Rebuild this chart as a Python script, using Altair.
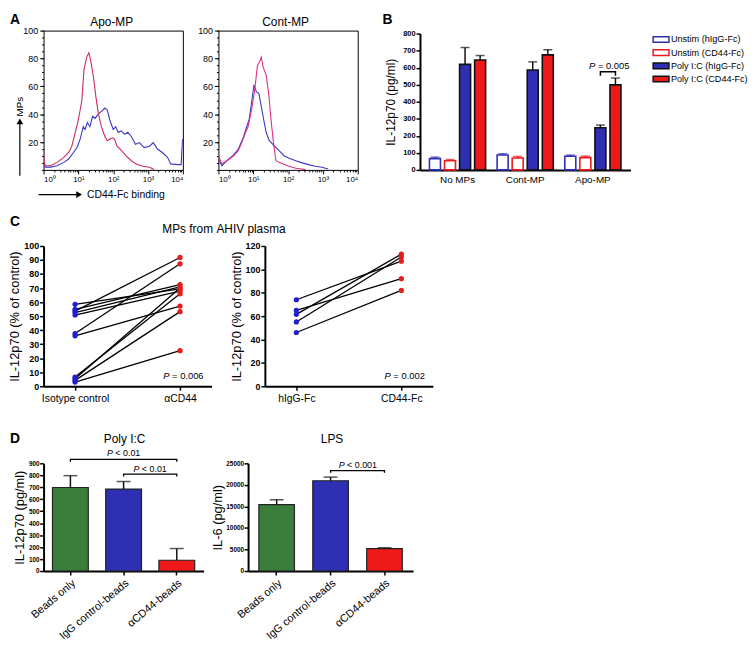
import math
import altair as alt
import pandas as pd

FONT = "Liberation Sans"

# ---------------- Panel A : flow histograms (x in decades = log10 intensity) ----------------
apo_cd44_x = [0.00, 0.04, 0.20, 0.39, 0.58, 0.72, 0.81, 0.91, 1.00, 1.10, 1.16, 1.24, 1.30, 1.35, 1.43, 1.50,
              1.57, 1.66, 1.76, 1.83, 1.90, 1.98, 2.04, 2.11, 2.23, 2.37, 2.52, 2.66, 2.85, 3.04, 3.18]
apo_cd44_y = [12, 3, 3, 5.4, 9, 12.5, 17, 27, 36, 50, 72, 81, 84, 79, 67, 53,
              41, 31, 24, 21, 22, 23, 22, 17, 14, 10, 6.6, 4.3, 2.6, 1.9, 0.3]
apo_higg_x = [0.00, 0.04, 0.20, 0.39, 0.58, 0.72, 0.86, 0.96, 1.05, 1.14, 1.19, 1.26, 1.33, 1.41, 1.48, 1.57,
              1.66, 1.76, 1.83, 1.90, 2.00, 2.07, 2.14, 2.23, 2.33, 2.42, 2.52, 2.64, 2.75, 2.89, 3.04, 3.15,
              3.27, 3.41, 3.56, 3.65, 3.84, 3.95, 3.99]
apo_higg_y = [5, 2, 2, 3, 5.4, 7.8, 12.5, 16, 22, 31, 29, 34, 31, 38.5, 37, 40,
              42, 44.4, 43, 36, 29, 31, 27, 28, 25.5, 27, 24, 18.4, 19.6, 16, 17, 19.6,
              15, 12.5, 9, 4.3, 3.8, 3.8, 22]
cont_cd44_x = [0.00, 0.10, 0.24, 0.43, 0.57, 0.67, 0.76, 0.85, 0.95, 1.04, 1.12, 1.18, 1.23, 1.28, 1.37, 1.45,
               1.51, 1.58, 1.65, 1.79, 1.98, 2.22, 2.50]
cont_cd44_y = [10, 4.3, 6.6, 10, 13.7, 19.6, 25.5, 31, 43, 57, 75, 77.5, 81, 74, 68, 53,
               36, 19.6, 6.6, 5, 3, 1.2, 0.2]
cont_higg_x = [0.00, 0.10, 0.24, 0.43, 0.57, 0.71, 0.81, 0.88, 0.95, 1.02, 1.09, 1.16, 1.23, 1.30, 1.37, 1.46,
               1.61, 1.75, 1.89, 2.03, 2.22, 2.36, 2.59, 2.78, 2.97, 3.15]
cont_higg_y = [7.8, 3, 6.6, 10.6, 15, 23, 31, 36, 48, 61, 56, 55, 45.6, 36, 27, 21,
               17, 13.7, 10, 8.3, 6.6, 5.4, 3.8, 2.6, 1.9, 0.7]
a_decades = [0, 1, 2, 3, 4]
a_yticks = [20, 40, 60, 80, 100]
a_minor_mult = [2, 3, 4, 5, 6, 7, 8, 9]
a_yminor = list(range(0, 101, 5))

# ---------------- Panel B ----------------
b_groups = ["No MPs", "Cont-MP", "Apo-MP"]
b_series = ["Unstim (hIgG-Fc)", "Unstim (CD44-Fc)", "Poly I:C (hIgG-Fc)", "Poly I:C (CD44-Fc)"]
b_unstim_higg = [66, 87, 80]
b_unstim_higg_err = [9, 8, 7]
b_unstim_cd44 = [54, 70, 72]
b_unstim_cd44_err = [7, 9, 9]
b_poly_higg = [619, 586, 247]
b_poly_higg_err = [99, 48, 16]
b_poly_cd44 = [645, 675, 499]
b_poly_cd44_err = [26, 30, 40]

# ---------------- Panel C ----------------
c1_conds = ["Isotype control", "\u03b1CD44"]
c1_isotype = [58.4, 54.8, 53.6, 52.5, 50.8, 37.6, 36.0, 6.6, 5.4, 4.2, 3.0]
c1_acd44 = [69.4, 72.5, 91.8, 70.8, 67.8, 87.3, 57.2, 65.9, 70.0, 53.2, 25.4]
c2_conds = ["hIgG-Fc", "CD44-Fc"]
c2_higg = [74, 65, 61.5, 55, 46]
c2_cd44 = [107, 92, 113, 110.6, 82]

# ---------------- Panel D ----------------
d_groups = ["Beads only", "IgG control-beads", "\u03b1CD44-beads"]
d_il12 = [698, 685, 90]
d_il12_err = [99, 63, 98]
d_il6 = [15400, 20950, 5200]
d_il6_err = [1150, 850, 200]

BLUE_A = "#3a3ac4"
RED_A = "#cc2a5e"
PINK_A = "#de2e86"
BAR_BLUE = "#2f2fb4"
BAR_RED = "#ee1a1a"
GREEN = "#3b7d3b"
PT_BLUE = "#1f1fd0"
PT_RED = "#e41d1d"

one = pd.DataFrame({"k": [0]})

CW = {" ": .278, "<": .584, "=": .584, ".": .278}


def est_w(s, size):
    return sum(CW.get(c, .556) for c in s) * size


def deco(text, x, y, size=12, weight="normal", align="center", baseline="alphabetic", angle=0, style="normal"):
    return alt.Chart(one).mark_text(text=text, fontSize=size, fontWeight=weight, align=align,
                                    baseline=baseline, angle=angle, fontStyle=style,
                                    color="black").encode(x=alt.value(x), y=alt.value(y))


def frame(x0, y0, x1, y1):
    # invisible rule that fixes the panel's layout bounds
    return alt.Chart(one).mark_rule(strokeOpacity=0, color="white").encode(
        x=alt.value(x0), x2=alt.value(x1), y=alt.value(y0), y2=alt.value(y1))


def p_deco(rest, xright, y, size):
    wp = 0.667 * size
    sp = 0.278 * size
    left = xright - wp - sp - est_w(rest, size)
    return [deco("P", left, y, size, align="left", style="italic"),
            deco(rest, left + wp + sp, y, size, align="left")]


def p_label(df, enc, rest, size, dxc):
    wp = 0.667 * size
    sp = 0.278 * size
    left = dxc - (wp + sp + est_w(rest, size)) / 2
    return [alt.Chart(df).mark_text(text="P", fontStyle="italic", fontSize=size, align="left",
                                    dx=left, color="black").encode(**enc),
            alt.Chart(df).mark_text(text=rest, fontSize=size, align="left",
                                    dx=left + wp + sp, color="black").encode(**enc)]


IND = dict(color="independent", fill="independent", stroke="independent")

# ================= Panel A =================
a_xminor = [n + math.log10(k) for n in range(4) for k in a_minor_mult]


def hist_panel(xr, yr, xb, yb, red, title, title_x, first):
    df = pd.concat([
        pd.DataFrame({"x": xb, "y": yb, "curve": "hIgG-Fc", "i": range(len(xb))}),
        pd.DataFrame({"x": xr, "y": yr, "curve": "CD44-Fc", "i": range(len(xr))}),
    ])
    xs = alt.Scale(domain=[0, 4], nice=False, zero=False)
    ys = alt.Scale(domain=[0, 100], nice=False)
    lines = alt.Chart(df).mark_line(strokeWidth=1.1, clip=True).encode(
        x=alt.X("x:Q", scale=xs,
                axis=alt.Axis(values=a_decades, title=None, domain=False, tickSize=4, labelFontSize=8,
                              labelPadding=2, orient="bottom",
                              labelExpr="'10' + ['\u2070','\u00b9','\u00b2','\u00b3','\u2074'][datum.value]")),
        y=alt.Y("y:Q", scale=ys,
                axis=alt.Axis(values=a_yticks, title=None, domain=False, tickSize=4, labelFontSize=9,
                              labelPadding=2, orient="left")),
        color=alt.Color("curve:N", scale=alt.Scale(domain=["hIgG-Fc", "CD44-Fc"], range=[BLUE_A, red]),
                        legend=None),
        order="i:Q",
    )
    minor = alt.Chart(df).mark_line(opacity=0).encode(
        x=alt.X("x:Q", scale=xs, axis=alt.Axis(values=a_xminor, labels=False, domain=False, tickSize=2,
                                               title=None, orient="bottom")),
        y=alt.Y("y:Q", scale=ys, axis=alt.Axis(values=a_yminor, labels=False, domain=False, tickSize=2,
                                               title=None, orient="left")),
        detail="curve:N",
    )
    layers = [lines, minor, deco(title, title_x, -4.3, 12)]
    if first:
        layers += [
            frame(-35, -17, 149, 175),
            deco("A", -34, -6.7, 14, weight="bold", align="left"),
            alt.Chart(one).mark_rule(color="black", strokeWidth=1.2).encode(
                x=alt.value(-24), y=alt.value(147), y2=alt.value(94)),
            alt.Chart(one).mark_point(shape="triangle-up", filled=True, size=45, color="black",
                                      opacity=1).encode(x=alt.value(-24), y=alt.value(92)),
            deco("MPs", -24, 77, 10, angle=270, baseline="middle"),
            alt.Chart(one).mark_rule(color="black", strokeWidth=1.2).encode(
                x=alt.value(-5), x2=alt.value(34), y=alt.value(166)),
            alt.Chart(one).mark_point(shape="triangle-right", filled=True, size=45, color="black",
                                      opacity=1).encode(x=alt.value(36), y=alt.value(166)),
            deco("CD44-Fc binding", 44, 166, 10.5, align="left", baseline="middle"),
        ]
    else:
        layers.append(frame(-24, -17, 149, 160))
    return alt.layer(*layers).resolve_axis(x="independent", y="independent").properties(
        width=141, height=141, view=alt.ViewBackground(stroke="black", strokeWidth=1))


A1 = hist_panel(apo_cd44_x, apo_cd44_y, apo_higg_x, apo_higg_y, RED_A, "Apo-MP", 69, True)
A2 = hist_panel(cont_cd44_x, cont_cd44_y, cont_higg_x, cont_higg_y, PINK_A, "Cont-MP", 68, False)

# ================= Panel B =================
b_means = [b_unstim_higg, b_unstim_cd44, b_poly_higg, b_poly_cd44]
b_errs = [b_unstim_higg_err, b_unstim_cd44_err, b_poly_higg_err, b_poly_cd44_err]
b_rows = []
for gi, g in enumerate(b_groups):
    for s, m, e in zip(b_series, b_means, b_errs):
        b_rows.append({"group": g, "series": s, "v": m[gi], "top": m[gi] + e[gi]})
bdf = pd.DataFrame(b_rows)
bcap = bdf.assign(v=bdf["top"])

bx = alt.X("group:N", sort=b_groups, scale=alt.Scale(paddingInner=0.17, paddingOuter=0.14),
           axis=alt.Axis(title=None, labelAngle=0, labelFontSize=10, ticks=False, domainWidth=2,
                         labelPadding=5))
bxo = alt.XOffset("series:N", sort=b_series, scale=alt.Scale(paddingInner=0.27, paddingOuter=0))
by = alt.Y("v:Q", scale=alt.Scale(domain=[0, 800], range=[141, 3]),
           axis=alt.Axis(values=list(range(0, 801, 100)), title="IL-12p70 (pg/ml)", titleFontSize=12,
                         titleFontWeight="normal", labelFontSize=7.5, labelFontWeight="bold", tickSize=4,
                         tickWidth=1.5, domainWidth=2, labelPadding=1, titlePadding=5))
b_fill = alt.Fill("series:N", scale=alt.Scale(domain=b_series, range=["white", "white", BAR_BLUE, BAR_RED]),
                  legend=None)
b_stroke = alt.Stroke("series:N", scale=alt.Scale(domain=b_series, range=[BAR_BLUE, BAR_RED, "#111", "#111"]),
                      legend=None)
b_col = alt.Color("series:N", scale=alt.Scale(domain=b_series, range=[BAR_BLUE, BAR_RED, "#111", "#111"]),
                  legend=None)

b_bars = alt.Chart(bdf).mark_bar(strokeWidth=1.6).encode(x=bx, xOffset=bxo, y=by, fill=b_fill, stroke=b_stroke)
b_err = alt.Chart(bdf).mark_rule(strokeWidth=1.5).encode(x=bx, xOffset=bxo, y=by, y2="top:Q", color=b_col)
b_caps = alt.Chart(bcap).mark_tick(thickness=1.5, size=9).encode(x=bx, xOffset=bxo, y=by, color=b_col)

b_br_series = ["Poly I:C (hIgG-Fc)", "Poly I:C (hIgG-Fc)", "Poly I:C (CD44-Fc)", "Poly I:C (CD44-Fc)"]
b_br_v = [553, 576, 576, 553]
b_brdf = pd.DataFrame({"group": "Apo-MP", "series": b_br_series, "v": b_br_v, "o": [0, 1, 2, 3]})
b_bracket = alt.Chart(b_brdf).mark_line(color="black", strokeWidth=1.5).encode(
    x=bx, xOffset=bxo, y=by, order="o:Q")
b_ptdf = pd.DataFrame({"group": ["Apo-MP"], "series": ["Poly I:C (hIgG-Fc)"], "v": [612]})
b_ptext = p_label(b_ptdf, dict(x=bx, xOffset=bxo, y=by), "= 0.005", 9.5, 9)

B = alt.layer(b_bars, b_err, b_caps, b_bracket, *b_ptext, frame(-39, -17, 213, 160),
              deco("B", -38, -6.7, 14, weight="bold", align="left")).properties(width=213, height=141)

# legend drawn as a small chart: one row per series
leg_df = pd.DataFrame({"series": b_series, "row": range(len(b_series))})
ly = alt.Y("row:Q", scale=alt.Scale(domain=[0, 3], range=[9, 49], nice=False, zero=False), axis=None)
leg_sym = alt.Chart(leg_df).mark_point(shape="M-1,-0.36L1,-0.36L1,0.36L-1,0.36Z", size=256, filled=True,
                                       strokeWidth=1.5, opacity=1).encode(
    x=alt.value(8), y=ly, fill=b_fill, stroke=b_stroke)
leg_txt = alt.Chart(leg_df).mark_text(align="left", baseline="middle", fontSize=9.2, color="black").encode(
    x=alt.value(18), y=ly, text="series:N")
LEG = alt.layer(leg_sym, leg_txt, frame(0, -17, 10, 50)).properties(width=95, height=60)


# ================= Panel C =================
def pair_df(conds, a, b):
    rows = []
    for i, (u, w) in enumerate(zip(a, b)):
        rows.append({"pair": i, "cond": conds[0], "v": u})
        rows.append({"pair": i, "cond": conds[1], "v": w})
    return pd.DataFrame(rows)


def pair_panel(conds, a, b, ymax, ystep, letter, ptxt):
    df = pair_df(conds, a, b)
    cx = alt.X("cond:N", sort=conds, scale=alt.Scale(type="point", padding=0.3),
               axis=alt.Axis(title=None, labelAngle=0, labelFontSize=10.5, tickSize=4, tickWidth=1.5,
                             domainWidth=2, labelPadding=3))
    cy = alt.Y("v:Q", scale=alt.Scale(domain=[0, ymax], nice=False),
               axis=alt.Axis(values=list(range(0, ymax + 1, ystep)), title="IL-12p70 (% of control)",
                             titleFontSize=13, titleFontWeight="normal", labelFontSize=9,
                             labelFontWeight="bold", tickSize=4, tickWidth=1.5, domainWidth=2,
                             labelPadding=1, titlePadding=2))
    lines = alt.Chart(df).mark_line(color="black", strokeWidth=1.3).encode(x=cx, y=cy, detail="pair:N")
    pts = alt.Chart(df).mark_circle(size=28, opacity=1).encode(
        x=cx, y=cy, color=alt.Color("cond:N", scale=alt.Scale(domain=conds, range=[PT_BLUE, PT_RED]),
                                    legend=None))
    layers = [lines, pts] + p_deco(ptxt, 162, 135, 9.5)
    if letter:
        # the row title is split in two so that each half stays inside its own panel's bounds
        layers += [frame(-35, -32, 172, 162),
                   deco("C", -34, -20, 14, weight="bold", align="left"),
                   deco("MPs from", 171.5, -13.3, 12, align="right")]
    else:
        layers += [frame(-37, -32, 171, 162),
                   deco("AHIV plasma", -49, -13.3, 12, align="left")]
    return alt.layer(*layers).properties(width=170, height=142)


C1 = pair_panel(c1_conds, c1_isotype, c1_acd44, 100, 10, True, "= 0.006")
C2 = pair_panel(c2_conds, c2_higg, c2_cd44, 120, 20, False, "= 0.002")


# ================= Panel D =================
def bar_panel(means, errs, ymax, ystep, ytitle, width, pin, pout, brackets, title, title_x, letter, fr):
    df = pd.DataFrame({"group": d_groups, "v": means, "top": [m + e for m, e in zip(means, errs)]})
    cap = df.assign(v=df["top"])
    dx_ = alt.X("group:N", sort=d_groups, scale=alt.Scale(paddingInner=pin, paddingOuter=pout),
                axis=alt.Axis(title=None, labelAngle=320, labelFontSize=11, tickSize=4, tickWidth=1.5,
                              domainWidth=2, labelPadding=2))
    dy_ = alt.Y("v:Q", scale=alt.Scale(domain=[0, ymax], nice=False),
                axis=alt.Axis(values=list(range(0, ymax + 1, ystep)), title=ytitle, titleFontSize=13,
                              titleFontWeight="normal", labelFontSize=6.5, labelFontWeight="bold", format="d",
                              tickSize=4, tickWidth=1.5, domainWidth=2, labelPadding=0.5, titlePadding=1.5))
    bars = alt.Chart(df).mark_bar(stroke="#222", strokeWidth=1.2).encode(
        x=dx_, y=dy_, fill=alt.Fill("group:N", scale=alt.Scale(domain=d_groups, range=[GREEN, BAR_BLUE, BAR_RED]),
                                    legend=None))
    err = alt.Chart(df).mark_rule(color="#111", strokeWidth=1.5).encode(x=dx_, y=dy_, y2="top:Q")
    caps = alt.Chart(cap).mark_tick(color="#111", thickness=1.5, size=14).encode(x=dx_, y=dy_)
    layers = [bars, err, caps]
    for (g0, g1, level, drop, anchor, dxc, ty, rest) in brackets:
        bdf_ = pd.DataFrame({"group": [g0, g0, g1, g1], "v": [drop, level, level, drop], "o": [0, 1, 2, 3]})
        layers.append(alt.Chart(bdf_).mark_line(color="black", strokeWidth=1.3).encode(
            x=dx_, y=dy_, order="o:Q"))
        tdf = pd.DataFrame({"group": [anchor], "v": [ty]})
        layers += p_label(tdf, dict(x=dx_, y=dy_), rest, 9, dxc)
    layers.append(deco(title, title_x, -20.5, 12))
    layers.append(frame(*fr))
    if letter:
        layers.append(deco("D", -34, -21, 14, weight="bold", align="left"))
    return alt.layer(*layers).properties(width=width, height=109)


d1_brackets = [
    ("Beads only", "\u03b1CD44-beads", 933, 913, "IgG control-beads", 0, 985, "< 0.01"),
    ("IgG control-beads", "\u03b1CD44-beads", 809, 789, "\u03b1CD44-beads", -27, 855, "< 0.01"),
]
d2_brackets = [
    ("IgG control-beads", "\u03b1CD44-beads", 23300, 22830, "\u03b1CD44-beads", -27, 24700, "< 0.001"),
]
D1 = bar_panel(d_il12, d_il12_err, 900, 100, "IL-12p70 (pg/ml)", 162, 0.327, 0.168, d1_brackets,
               "Poly I:C", 82, True, (-35, -33, 163, 150))
D2 = bar_panel(d_il6, d_il6_err, 25000, 5000, "IL-6 (pg/ml)", 167, 0.34, 0.2, d2_brackets,
               "LPS", 85, False, (-38, -33, 168, 150))

# ================= Layout =================
row1 = alt.hconcat(
    alt.hconcat(A1, A2, spacing=2).resolve_scale(**IND),
    alt.hconcat(B, LEG, spacing=20),
    spacing=15).resolve_scale(**IND)
row2 = alt.hconcat(C1, C2, spacing=3).resolve_scale(**IND)
row3 = alt.hconcat(D1, D2, spacing=6).resolve_scale(**IND)

chart = alt.vconcat(
    row1,
    alt.vconcat(row2, row3, spacing=25).resolve_scale(**IND),
    spacing=10).resolve_scale(**IND).properties(padding=0).configure(
    font=FONT).configure_view(stroke=None).configure_axis(
    labelFont=FONT, titleFont=FONT, labelColor="black", titleColor="black", tickColor="black",
    domainColor="black", grid=False)

chart.save("out.html", embed_options={"renderer": "svg", "actions": False})
